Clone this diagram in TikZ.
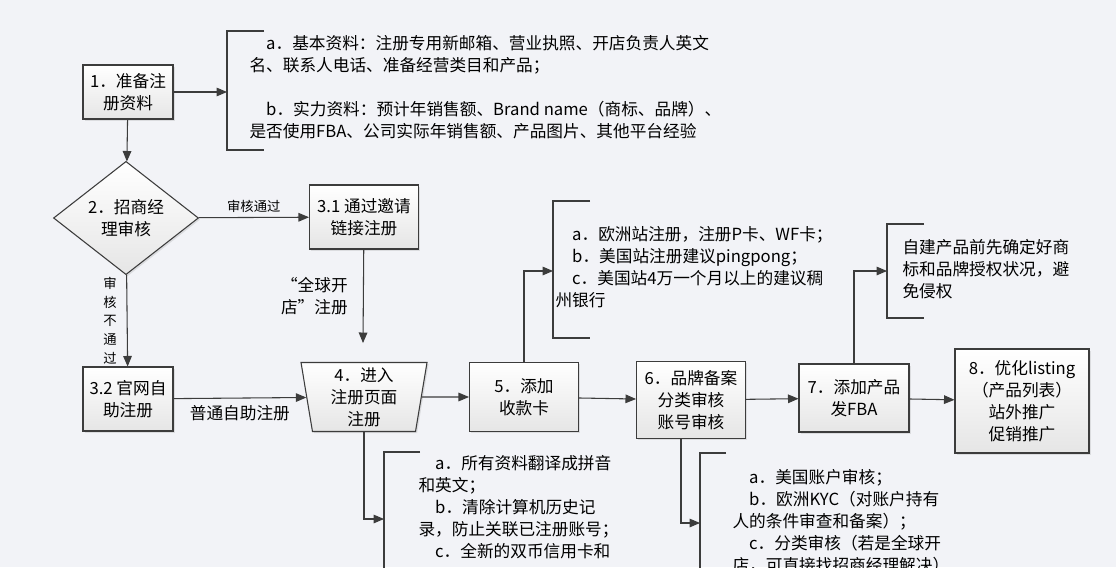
\documentclass[tikz,border=0pt]{standalone}
\usepackage{fontspec}
\setmainfont{Noto Sans CJK SC}
\usepackage{tikz}
\usetikzlibrary{arrows,shapes.geometric,shadows}
\definecolor{bgc}{RGB}{242,243,247}
\definecolor{linec}{RGB}{60,60,60}
\tikzset{
  stepbox/.style={draw=linec, top color=white, bottom color=black!10, align=center,
    inner sep=1pt, drop shadow={opacity=0.2, shadow xshift=1.2pt, shadow yshift=-1.2pt}},
  txt/.style={align=left, inner sep=0pt, anchor=north west},
  arr/.style={draw=linec, -triangle 45},
  brk/.style={draw=linec, thick},
}
\begin{document}
\begin{tikzpicture}[x=0.75pt, y=-0.75pt, font=\fontsize{12.5}{16.5}\selectfont, line width=0.8pt]
\fill[bgc] (0,0) rectangle (1116,567);
\clip (0,0) rectangle (1116,567);

% boxes
\node[stepbox, minimum width=67.5pt, minimum height=40.5pt] (b1) at (128,92) {1．准备注\\册资料};
\node[stepbox, diamond, minimum width=108.75pt, minimum height=78pt, inner sep=0pt] (d2) at (126,218) {2．招商经\\理审核};
\node[stepbox, minimum width=81.75pt, minimum height=48pt] (b31) at (364,217) {3.1 通过邀请\\链接注册};
\node[stepbox, minimum width=67.5pt, minimum height=48pt] (b32) at (128,399) {3.2 官网自\\助注册};
\node[stepbox, trapezium, shape border rotate=180, trapezium angle=79, trapezium stretches body,
  minimum width=94.5pt, minimum height=51.75pt, inner sep=0pt] (b4) at (364,397) {4．进入\\注册页面\\注册};
\node[stepbox, minimum width=81.75pt, minimum height=51.75pt] (b5) at (524,397) {5．添加\\收款卡};
\node[stepbox, minimum width=81.75pt, minimum height=57.75pt] (b6) at (691,400) {6．品牌备案\\分类审核\\账号审核};
\node[stepbox, minimum width=82.5pt, minimum height=51pt] (b7) at (854,398) {7．添加产品\\发FBA};
\node[stepbox, minimum width=100.5pt, minimum height=78pt] (b8) at (1022,401) {8．优化listing\\（产品列表）\\站外推广\\促销推广};

% brackets
\draw[brk] (264,31) -- (227,31) -- (227,150) -- (264,150);
\draw[brk] (590,201) -- (553,201) -- (553,338) -- (590,338);
\draw[brk] (924,224) -- (887,224) -- (887,318) -- (924,318);
\draw[brk] (420,452) -- (384,452) -- (384,600);
\draw[brk] (726,453) -- (700,453) -- (700,600);
\coordinate (k1) at (227,92);
\coordinate (k5) at (553,271);
\coordinate (k7) at (887,271);
\coordinate (k4) at (384,519);
\coordinate (k6) at (700,523);
\coordinate (s31) at (363,343);
\coordinate (s6) at (681,439);

% bracket texts
\node[txt] (t1) at (249,35) {\hspace*{1em}a．基本资料：注册专用新邮箱、营业执照、开店负责人英文\\名、联系人电话、准备经营类目和产品；\\[16.5pt]
\hspace*{1em}b．实力资料：预计年销售额、Brand name（商标、品牌）、\\是否使用FBA、公司实际年销售额、产品图片、其他平台经验};
\node[txt] (t5) at (555,226) {\hspace*{1em}a．欧洲站注册，注册P卡、WF卡；\\\hspace*{1em}b．美国站注册建议pingpong；\\\hspace*{1em}c．美国站4万一个月以上的建议稠\\州银行};
\node[txt] (t7) at (902,239) {自建产品前先确定好商\\标和品牌授权状况，避\\免侵权};
\node[txt] (t4) at (418,455) {\hspace*{1em}a．所有资料翻译成拼音\\和英文；\\\hspace*{1em}b．清除计算机历史记\\录，防止关联已注册账号；\\\hspace*{1em}c．全新的双币信用卡和};
\node[txt] (t6) at (732,469) {\hspace*{1em}a．美国账户审核；\\\hspace*{1em}b．欧洲KYC（对账户持有\\人的条件审查和备案）；\\\hspace*{1em}c．分类审核（若是全球开\\店，可直接找招商经理解决）};

% connectors
\draw[arr] (b1) -- (d2);
\draw[arr] (b1) -- (k1);
\draw[arr] (d2) -- node[above, font=\fontsize{10}{12}\selectfont] (l1) {审核通过} (b31);
\draw[arr] (d2) -- node[left, xshift=-4pt, font=\fontsize{10}{14}\selectfont, align=center] (l2) {审\\核\\不\\通\\过} (b32);
\draw[arr] (b31) -- node[left, xshift=-8pt, align=right] (l3) {“全球开\\店”注册} (s31);
\draw[arr] (b32) -- node[below, yshift=-2pt] (l4) {普通自助注册} (b4);
\draw[arr] (b4) -- (b5);
\draw[arr] (b5) -- (b6);
\draw[arr] (b6) -- (b7);
\draw[arr] (b7) -- (b8);
\draw[arr] (b5.north) |- (k5);
\draw[arr] (b7.north) |- (k7);
\draw[arr] (b4.south) |- (k4);
\draw[arr] (s6) |- (k6);
\end{tikzpicture}
\end{document}
